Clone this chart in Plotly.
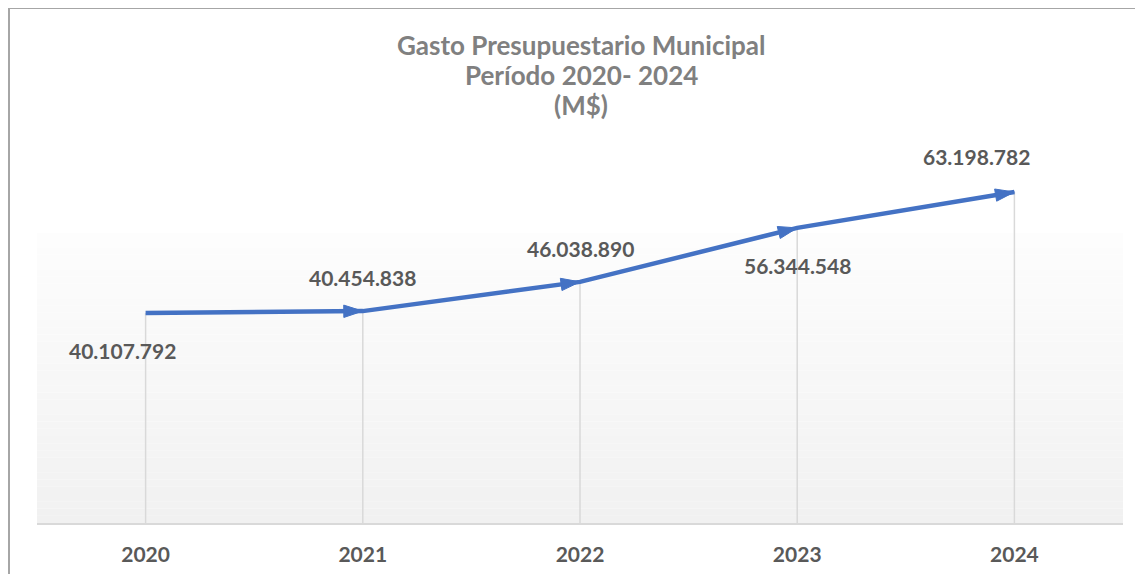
import plotly.graph_objects as go

years = [2020, 2021, 2022, 2023, 2024]
values = [40107792, 40454838, 46038890, 56344548, 63198782]
labels = ["40.107.792", "40.454.838", "46.038.890", "56.344.548", "63.198.782"]
tick_labels = ["2020", "2021", "2022", "2023", "2024"]
title_lines = ["Gasto Presupuestario Municipal", "Período 2020- 2024", "(M$)"]

OFF = 8  # page body margin
W, H = 1143 - 2 * OFF, 582 - 2 * OFF
L, R, T, B = 37 - OFF, W - (1123 - OFF), 104 - OFF, H - (523 - OFF)
plot_h = H - T - B
plot_w = W - L - R

def py(pix):
    return (H - B - (pix - OFF)) / plot_h

def px(pix):
    return (pix - OFF - L) / plot_w

fig = go.Figure()

# drop lines
dx, dy = [], []
for x, v in zip(years, values):
    dx += [x, x, None]
    dy += [0, v, None]
fig.add_trace(go.Scatter(x=dx, y=dy, mode="lines", line=dict(color="#d9d9d9", width=1.5),
                         hoverinfo="skip", showlegend=False))

# main line
fig.add_trace(go.Scatter(
    x=years, y=values, mode="lines",
    line=dict(color="#4472C4", width=4.5),
    hoverinfo="skip", showlegend=False))
# arrowheads
fig.add_trace(go.Scatter(
    x=years, y=values, mode="markers",
    marker=dict(symbol=["circle"] + ["arrow"] * 4, size=[0, 20, 20, 20, 20],
                angleref="previous", standoff=0, color="#4472C4", opacity=1,
                line=dict(width=1, color="#4472C4")),
    showlegend=False))

shapes = []
# gradient background bands
N = 40
top = py(233)
for i in range(N):
    y0 = top * i / N
    y1 = top * (i + 1) / N
    f = i / (N - 1)
    c = int(round(241 + (253 - 241) * f))
    shapes.append(dict(type="rect", xref="paper", yref="paper", x0=0, x1=1, y0=y0, y1=y1,
                       fillcolor=f"rgb({c},{c},{c})", line=dict(width=0), layer="below"))
# outer border (left and top)
shapes.append(dict(type="line", xref="paper", yref="paper", x0=px(9), x1=px(9), y0=py(8), y1=py(620),
                   line=dict(color="#a6a6a6", width=2)))
shapes.append(dict(type="line", xref="paper", yref="paper", x0=px(8), x1=px(1180), y0=py(8), y1=py(8),
                   line=dict(color="#a6a6a6", width=2)))

# data label offsets (px)
offs = [(-23, -38), (0, 34), (0, 33), (0, -38), (-38, 36)]
annotations = []
for x, v, lab, (ox, oy) in zip(years, values, labels, offs):
    annotations.append(dict(x=x, y=v, text=lab, showarrow=False, xshift=ox, yshift=oy,
                            font=dict(family="Lato", size=21, color="#595959", weight="bold")))
for i, t in enumerate(title_lines):
    annotations.append(dict(xref="paper", yref="paper", x=px(581), y=py(45 + 30 * i), text=t,
                            showarrow=False, xanchor="center", yanchor="middle",
                            font=dict(family="Lato", size=26, color="#808080", weight="bold")))

fig.update_layout(
    width=W, height=H,
    margin=dict(l=L, r=R, t=T, b=B, autoexpand=False),
    paper_bgcolor="white", plot_bgcolor="rgba(0,0,0,0)",
    shapes=shapes, annotations=annotations,
    xaxis=dict(range=[2019.5, 2024.5], tickvals=years, ticktext=tick_labels,
               showgrid=False, zeroline=False, showline=True, linecolor="#d9d9d9", linewidth=2,
               ticks="", ticklabelstandoff=12, automargin=False,
               tickfont=dict(family="Lato", size=21, color="#595959", weight="bold"),
               fixedrange=True),
    yaxis=dict(range=[0, 80000000], visible=False, fixedrange=True, automargin=False),
)

fig.write_html("out.html")
